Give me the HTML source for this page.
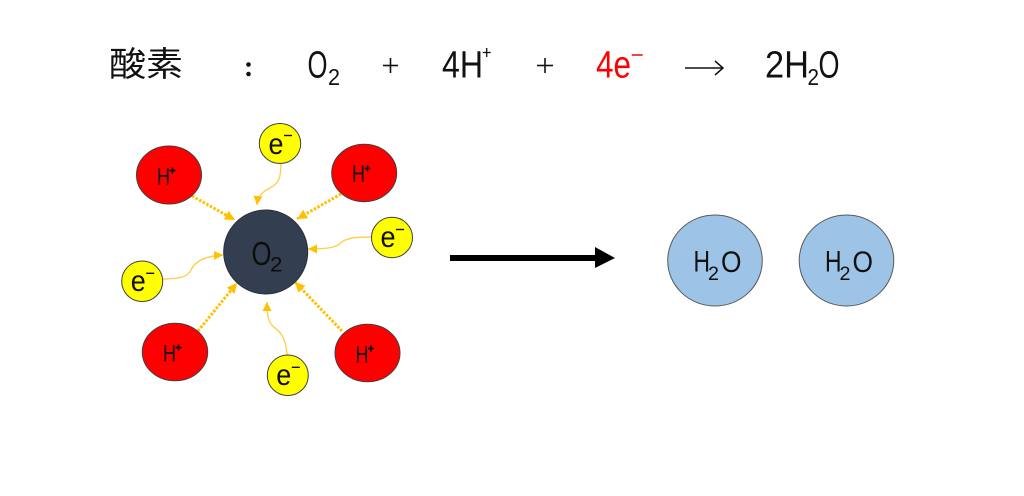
<!DOCTYPE html>
<html>
<head>
<meta charset="utf-8">
<style>
  html, body { margin: 0; padding: 0; background: #ffffff; }
  svg { display: block; }
  text { font-family: "Liberation Sans", "Noto Sans CJK JP", sans-serif; }
</style>
</head>
<body>
<svg width="1024" height="496" viewBox="0 0 1024 496" xmlns="http://www.w3.org/2000/svg">
  <defs>
    <marker id="ah" viewBox="0 0 10 10" refX="10" refY="5" markerWidth="10" markerHeight="10" markerUnits="userSpaceOnUse" orient="auto">
      <path d="M0,0 L10,5 L0,10 z" fill="#ffc000"/>
    </marker>
    <marker id="ah2" viewBox="0 0 10 10" refX="10" refY="5" markerWidth="9" markerHeight="9" markerUnits="userSpaceOnUse" orient="auto">
      <path d="M0,0 L10,5 L0,10 z" fill="#ffc000"/>
    </marker>
  </defs>
  <rect width="1024" height="496" fill="#ffffff"/>

  <!-- Title equation -->
  <text x="109" y="76" font-size="34" fill="#111" textLength="74" lengthAdjust="spacingAndGlyphs" font-family="Noto Sans CJK JP, sans-serif">酸素</text>
  <circle cx="248.5" cy="64.5" r="2.3" fill="#111"/>
  <circle cx="248.5" cy="74" r="2.3" fill="#111"/>

  <text x="307.5" y="77.5" font-size="38" fill="#111" textLength="20" lengthAdjust="spacingAndGlyphs">O</text>
  <text x="328" y="85" font-size="23" fill="#111" textLength="12" lengthAdjust="spacingAndGlyphs">2</text>

  <g stroke="#111" stroke-width="1.6">
    <line x1="383" y1="65.5" x2="398" y2="65.5"/>
    <line x1="390.5" y1="58" x2="390.5" y2="73"/>
  </g>

  <text x="442" y="77.5" font-size="38" fill="#111" textLength="41" lengthAdjust="spacingAndGlyphs">4H</text>
  <g stroke="#111" stroke-width="1.3">
    <line x1="482.7" y1="52.5" x2="490.7" y2="52.5"/>
    <line x1="486.7" y1="48" x2="486.7" y2="57"/>
  </g>

  <g stroke="#111" stroke-width="1.6">
    <line x1="537" y1="65.5" x2="553" y2="65.5"/>
    <line x1="545" y1="58" x2="545" y2="73"/>
  </g>

  <text x="596" y="77.5" font-size="38" fill="#ff0000" textLength="35" lengthAdjust="spacingAndGlyphs">4e</text>
  <line x1="631.7" y1="55" x2="642.7" y2="55" stroke="#ff0000" stroke-width="1.5"/>

  <g stroke="#111" stroke-width="1.5" fill="none">
    <line x1="685" y1="68" x2="722.5" y2="68"/>
    <polyline points="715,61 723,68 715,75"/>
  </g>

  <text x="765" y="77.5" font-size="38" fill="#111" textLength="44" lengthAdjust="spacingAndGlyphs">2H</text>
  <text x="807.5" y="85" font-size="23" fill="#111" textLength="11.5" lengthAdjust="spacingAndGlyphs">2</text>
  <text x="818.5" y="77.5" font-size="38" fill="#111" textLength="21" lengthAdjust="spacingAndGlyphs">O</text>

  <!-- Dotted arrows (H+ -> O2) -->
  <g stroke="#ffc000" stroke-width="3" stroke-dasharray="2.5 1.6" fill="none">
    <line x1="192" y1="196" x2="235" y2="220" marker-end="url(#ah)"/>
    <line x1="341" y1="194" x2="297" y2="219" marker-end="url(#ah)"/>
    <line x1="198" y1="331" x2="237" y2="283" marker-end="url(#ah)"/>
    <line x1="342" y1="331" x2="295" y2="282" marker-end="url(#ah)"/>
  </g>

  <!-- Curved arrows (e- -> O2) -->
  <g stroke="#ffcf4d" stroke-width="1.4" fill="none">
    <path d="M281,163 C281,178 279,183 270,188 C262,192 258,196 257,205" marker-end="url(#ah2)"/>
    <path d="M372,237 C355,237 347,238 342,242 C337,247 330,249 308,249" marker-end="url(#ah2)"/>
    <path d="M163,279 C178,279 188,277 191,270 C195,261 205,256 223,255" marker-end="url(#ah2)"/>
    <path d="M287,355 C286,340 282,333 275,328 C268,323 267,315 267,302" marker-end="url(#ah2)"/>
  </g>

  <!-- O2 -->
  <circle cx="265.7" cy="252" r="42" fill="#333f50" stroke="#2a2f38" stroke-width="1"/>
  <text x="251.5" y="265" font-size="33" fill="#0d0d0d" textLength="20" lengthAdjust="spacingAndGlyphs">O</text>
  <text x="270" y="271.7" font-size="21" fill="#0d0d0d" textLength="12.5" lengthAdjust="spacingAndGlyphs">2</text>

  <!-- H+ ions -->
  <g stroke="#404040" stroke-width="1" fill="#ff0000">
    <ellipse cx="169" cy="175" rx="32.5" ry="29"/>
    <ellipse cx="364.2" cy="173" rx="32.5" ry="28.7"/>
    <ellipse cx="175" cy="352" rx="32.7" ry="28.8"/>
    <ellipse cx="367.5" cy="353" rx="32.5" ry="28.8"/>
  </g>
  <g font-size="24" fill="#111">
    <text x="157" y="184.3" textLength="13" lengthAdjust="spacingAndGlyphs">H</text>
    <text x="352" y="182" textLength="13" lengthAdjust="spacingAndGlyphs">H</text>
    <text x="163" y="361.3" textLength="13" lengthAdjust="spacingAndGlyphs">H</text>
    <text x="355.5" y="362.3" textLength="13" lengthAdjust="spacingAndGlyphs">H</text>
  </g>
  <g stroke="#111" stroke-width="1.7">
    <line x1="169.5" y1="170.5" x2="175.5" y2="170.5"/><line x1="172.5" y1="167.5" x2="172.5" y2="173.5"/>
    <line x1="364.5" y1="168.5" x2="370.5" y2="168.5"/><line x1="367.5" y1="165.5" x2="367.5" y2="171.5"/>
    <line x1="175.5" y1="347.5" x2="181.5" y2="347.5"/><line x1="178.5" y1="344.5" x2="178.5" y2="350.5"/>
    <line x1="368" y1="348.5" x2="374" y2="348.5"/><line x1="371" y1="345.5" x2="371" y2="351.5"/>
  </g>

  <!-- e- electrons -->
  <g stroke="#404040" stroke-width="1" fill="#ffff00">
    <ellipse cx="280" cy="143.5" rx="20.7" ry="20"/>
    <ellipse cx="392" cy="237.5" rx="20.5" ry="20.2"/>
    <ellipse cx="142.2" cy="281.3" rx="20.5" ry="20.3"/>
    <ellipse cx="287.8" cy="375.3" rx="20.5" ry="20.3"/>
  </g>
  <g font-size="30" fill="#111">
    <text x="268.5" y="154" textLength="15" lengthAdjust="spacingAndGlyphs">e</text>
    <text x="380.5" y="247" textLength="15" lengthAdjust="spacingAndGlyphs">e</text>
    <text x="130.7" y="291" textLength="15" lengthAdjust="spacingAndGlyphs">e</text>
    <text x="276.3" y="385" textLength="15" lengthAdjust="spacingAndGlyphs">e</text>
  </g>
  <g stroke="#111" stroke-width="1.4">
    <line x1="284" y1="135.5" x2="292" y2="135.5"/>
    <line x1="396" y1="229.5" x2="404" y2="229.5"/>
    <line x1="146.2" y1="273.3" x2="154.2" y2="273.3"/>
    <line x1="291.8" y1="367.3" x2="299.8" y2="367.3"/>
  </g>

  <!-- Big reaction arrow -->
  <line x1="450" y1="258" x2="597" y2="258" stroke="#000" stroke-width="6"/>
  <polygon points="595,247 615,258 595,268" fill="#000"/>

  <!-- H2O molecules -->
  <g stroke="#595959" stroke-width="1" fill="#9dc3e6">
    <ellipse cx="715" cy="260.5" rx="47.3" ry="45.5"/>
    <ellipse cx="846.5" cy="260.5" rx="47.3" ry="45.5"/>
  </g>
  <g fill="#111">
    <text x="693.5" y="271.7" font-size="30" textLength="16.5" lengthAdjust="spacingAndGlyphs">H</text>
    <text x="708" y="280" font-size="19" textLength="11" lengthAdjust="spacingAndGlyphs">2</text>
    <text x="721" y="272" font-size="30" textLength="20.5" lengthAdjust="spacingAndGlyphs">O</text>
    <text x="825" y="271.7" font-size="30" textLength="16.5" lengthAdjust="spacingAndGlyphs">H</text>
    <text x="839.5" y="280" font-size="19" textLength="11" lengthAdjust="spacingAndGlyphs">2</text>
    <text x="852.5" y="272" font-size="30" textLength="20.5" lengthAdjust="spacingAndGlyphs">O</text>
  </g>
</svg>
</body>
</html>
